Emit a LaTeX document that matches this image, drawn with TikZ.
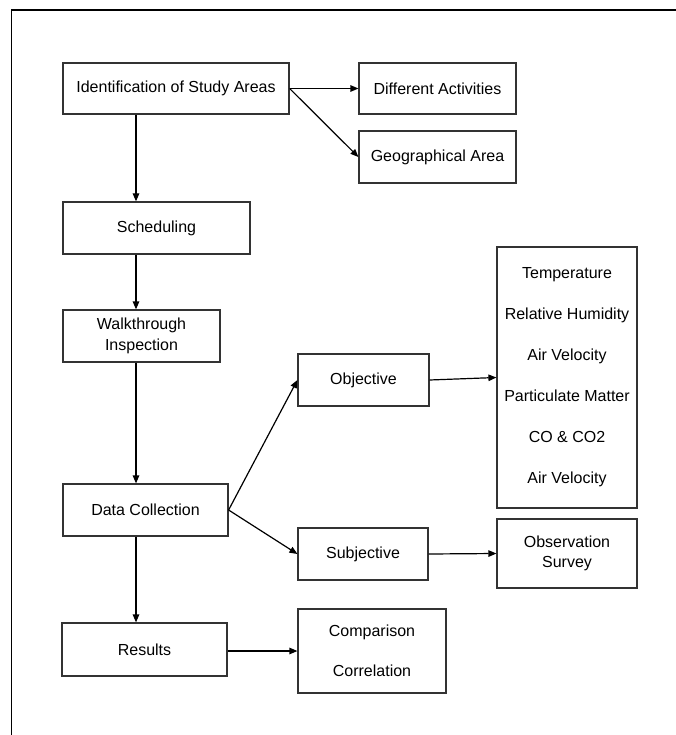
\documentclass[tikz,border=0pt]{standalone}
\usepackage{fontspec}
\setmainfont{Liberation Sans}
\usetikzlibrary{arrows.meta}

\begin{document}
\begin{tikzpicture}[
    x=1pt, y=-1pt,
    >={Triangle[length=8pt, width=6.5pt]},
    line/.style    = {line width=1.2pt},
    box/.style     = {draw=black!80, line width=1.2pt, inner sep=0pt, align=center,
                      font=\fontsize{16}{18}\selectfont},
    listbox/.style = {box, font=\fontsize{16}{41}\selectfont}
]
\useasboundingbox (0,0) rectangle (676,735);

% Page frame (top and left edges only)
\draw[line] (11.5,735) -- (11.5,10) -- (676,10);

% Main column of steps
\node[box, minimum width=226pt, minimum height=51pt] (ident)   at (176, 88.5)  {Identification of Study Areas};
\node[box, minimum width=187pt, minimum height=52pt] (sched)   at (156.5, 228) {Scheduling};
\node[box, minimum width=157pt, minimum height=52pt, font=\fontsize{16}{21}\selectfont]
                                                     (walk)    at (141.5, 336) {Walkthrough\\Inspection};
\node[box, minimum width=165pt, minimum height=52pt] (data)    at (145.5, 510) {Data Collection};
\node[box, minimum width=165pt, minimum height=53pt] (results) at (144.5, 649.5) {Results};

% Side branches
\node[box, minimum width=157pt, minimum height=51pt] (diffact) at (437.5, 88.5) {Different Activities};
\node[box, minimum width=157pt, minimum height=52pt] (geo)     at (437.5, 157)  {Geographical Area};
\node[box, minimum width=131pt, minimum height=52pt] (obj)     at (363.5, 380)  {Objective};
\node[box, minimum width=130pt, minimum height=52pt] (subj)    at (363, 554)    {Subjective};

% Measured parameters and outcomes
\node[listbox, minimum width=140pt, minimum height=261pt] (params) at (567, 377.5)
    {Temperature\\Relative Humidity\\Air Velocity\\Particulate Matter\\CO \& CO2\\Air Velocity};
\node[box, minimum width=140pt, minimum height=69pt, font=\fontsize{16}{20}\selectfont]
                                                     (obs)  at (567, 553.5) {Observation\\Survey};
\node[listbox, minimum width=148pt, minimum height=84pt, font=\fontsize{16}{40}\selectfont]
                                                     (comp) at (372, 651)   {Comparison\\Correlation};

% Vertical spine of the main column
\coordinate (spine) at (136, 0);
\foreach \a/\b in {ident/sched, sched/walk, walk/data, data/results}
    \draw[->, line] (\a.south -| spine) -- (\b.north -| spine);

% Branch arrows
\draw[->, line] (ident.east) -- (diffact.west);
\draw[->, line] (ident.east) -- (geo.west);
\draw[->, line] (data.east) -- (obj.west);
\draw[->, line] (data.east) -- (subj.west);
\draw[->, line] (obj.east) -- (params.west);
\draw[->, line] (subj.east) -- (obs.west);
\draw[->, line] (results.east |- comp.west) -- (comp.west);

\end{tikzpicture}
\end{document}
